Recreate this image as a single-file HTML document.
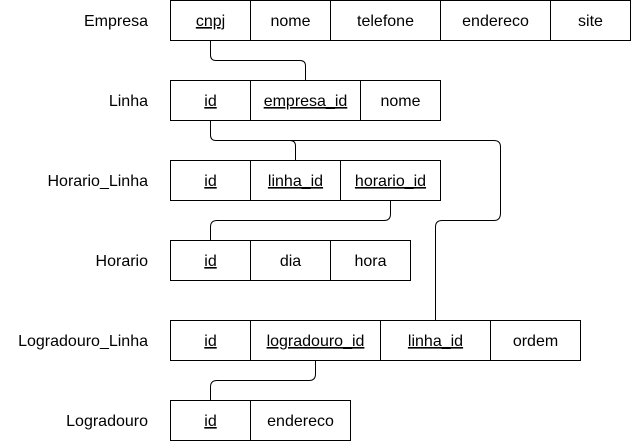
<!DOCTYPE html>
<html><head><meta charset="utf-8"><style>
html,body{margin:0;padding:0;background:#fff;}
svg{display:block;font-family:"Liberation Sans",Arial,sans-serif;font-size:16px;}
</style></head><body>
<svg width="631" height="441" viewBox="0 0 631 441">
<g fill="none" stroke="#000" stroke-width="1">
 <path d="M210.5 40 V55 Q210.5 60.5 216 60.5 H300 Q305.5 60.5 305.5 66 V80"/>
 <path d="M210.5 120 V135 Q210.5 140.5 216 140.5 H290 Q295.5 140.5 295.5 146 V160"/>
 <path d="M290 140.5 H494 Q500.5 140.5 500.5 147 V213 Q500.5 220.5 494 220.5 H442 Q435.5 220.5 435.5 227 V320"/>
 <path d="M390.5 200 V214 Q390.5 220.5 384 220.5 H217 Q210.5 220.5 210.5 227 V240"/>
 <path d="M315.5 360 V374 Q315.5 380.5 309 380.5 H217 Q210.5 380.5 210.5 387 V400"/>
</g>
<g id="tables"></g>
</svg>
<script>
const tables=[
 {name:'Empresa',y:0,cells:[['cnpj',170,250,1],['nome',250,330,0],['telefone',330,440,0],['endereco',440,550,0],['site',550,630,0]]},
 {name:'Linha',y:80,cells:[['id',170,250,1],['empresa_id',250,360,1],['nome',360,440,0]]},
 {name:'Horario_Linha',y:160,cells:[['id',170,250,1],['linha_id',250,340,1],['horario_id',340,440,1]]},
 {name:'Horario',y:240,cells:[['id',170,250,1],['dia',250,330,0],['hora',330,410,0]]},
 {name:'Logradouro_Linha',y:320,cells:[['id',170,250,1],['logradouro_id',250,380,1],['linha_id',380,490,1],['ordem',490,580,0]]},
 {name:'Logradouro',y:400,cells:[['id',170,250,1],['endereco',250,350,0]]}
];
const NS='http://www.w3.org/2000/svg';
const g=document.getElementById('tables');
tables.forEach(t=>{
 const tg=document.createElementNS(NS,'g');
 
 
 const lab=document.createElementNS(NS,'text');
 lab.setAttribute('x',148);lab.setAttribute('y',t.y+26);lab.setAttribute('text-anchor','end');
 lab.textContent=t.name;
 
 
 tg.appendChild(lab);
 t.cells.forEach(c=>{
  const r=document.createElementNS(NS,'rect');
  r.setAttribute('x',c[1]+0.5);r.setAttribute('y',t.y+0.5);r.setAttribute('width',c[2]-c[1]);r.setAttribute('height',40);
  r.setAttribute('fill','#fff');r.setAttribute('stroke','#000');
  
  
  tg.appendChild(r);
  const tx=document.createElementNS(NS,'text');
  tx.setAttribute('x',(c[1]+c[2])/2+0.5);tx.setAttribute('y',t.y+26);tx.setAttribute('text-anchor','middle');
  if(c[3])tx.setAttribute('text-decoration','underline');
  tx.textContent=c[0];
  
  
  tg.appendChild(tx);
 });
 g.appendChild(tg);
});
</script>
</body></html>
